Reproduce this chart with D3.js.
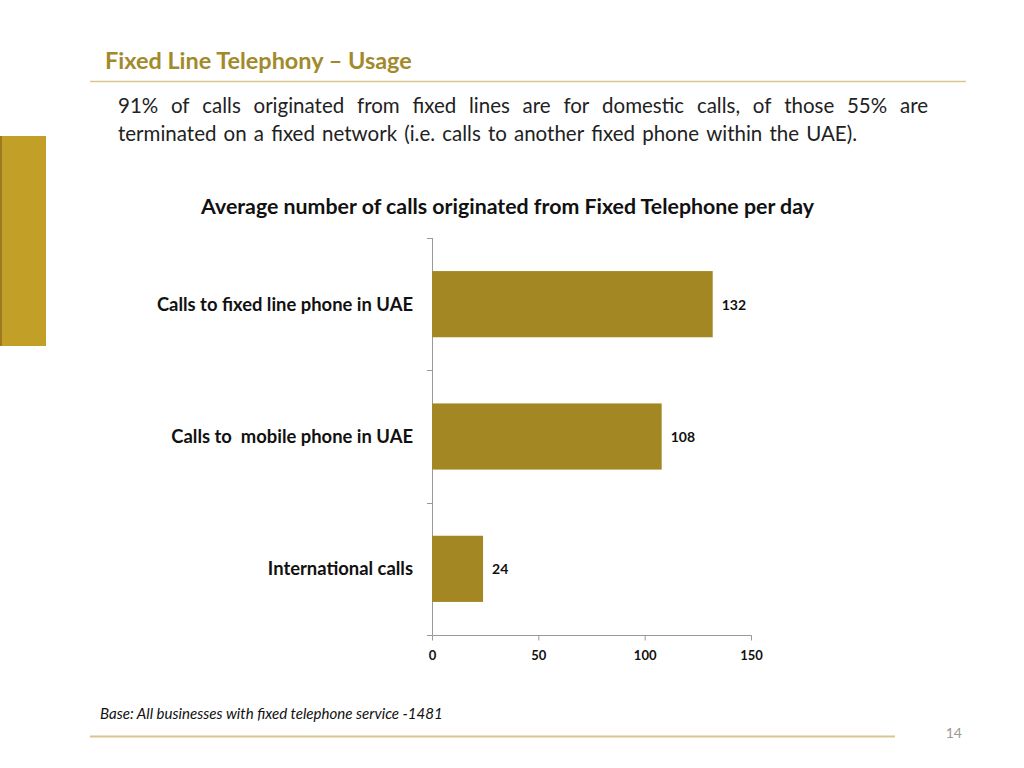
<!DOCTYPE html>
<html><head><meta charset="utf-8">
<script src="https://cdn.jsdelivr.net/npm/d3@7"></script>
<style>body{margin:0;background:#fff}svg{display:block}</style>
</head><body>
<svg id="c" width="1024" height="768"></svg>
<script>
const categories = ["Calls to fixed line phone in UAE", "Calls to  mobile phone in UAE", "International calls"];
const values = [132, 108, 24];
const xTicks = [0, 50, 100, 150];
const pageTitle = "Fixed Line Telephony \u2013 Usage";
const subtitleLines = ["91% of calls originated from fixed lines are for domestic calls, of those 55% are",
  "terminated on a fixed network (i.e. calls to another fixed phone within the UAE)."];
const chartTitle = "Average number of calls originated from Fixed Telephone per day";
const baseNote = "Base: All businesses with fixed telephone service -1481";
const pageNum = "14";

const font = "Lato, 'Open Sans', sans-serif";
const svg = d3.select("#c");

// fit text to a target width
function fit(sel, w){
  const cur = sel.node().getComputedTextLength();
  const fs = parseFloat(sel.attr("font-size"));
  sel.attr("font-size", fs * w / cur);
}

// decorations
svg.append("rect").attr("x",0).attr("y",136).attr("width",46).attr("height",210).attr("fill","#C2A027");
svg.append("rect").attr("x",0).attr("y",136).attr("width",2).attr("height",210).attr("fill","#9a7a1c");
svg.append("line").attr("x1",90).attr("x2",966).attr("y1",81.5).attr("y2",81.5).attr("stroke","#D8C68E").attr("stroke-width",1.5);
svg.append("line").attr("x1",90).attr("x2",895).attr("y1",736.5).attr("y2",736.5).attr("stroke","#D8C68E").attr("stroke-width",2);

const t1 = svg.append("text").attr("x",105).attr("y",69).attr("font-family",font).attr("font-weight","bold")
  .attr("font-size",20).attr("fill","#A28A2C").text(pageTitle);
fit(t1, 307);

// justified subtitle: spread words between x0 and x1
function justify(line, y, x0, x1, fs){
  const words = line.split(" ");
  const g = svg.append("g").attr("font-family",font).attr("font-size",fs).attr("fill","#222");
  const nodes = words.map(w => g.append("text").attr("y",y).text(w));
  const widths = nodes.map(n => n.node().getComputedTextLength());
  const total = d3.sum(widths);
  const space = (x1 - x0 - total)/(words.length-1);
  let x = x0;
  nodes.forEach((n,i)=>{ n.attr("x",x); x += widths[i] + space; });
}
justify(subtitleLines[0], 113, 118, 928, 20.5);
justify(subtitleLines[1], 141, 118, 857, 20.5);

const ct = svg.append("text").attr("x",507.5).attr("y",214).attr("text-anchor","middle").attr("font-family",font)
  .attr("font-weight","bold").attr("font-size",18).attr("fill","#111").text(chartTitle);
fit(ct, 613);

// chart
const x = d3.scaleLinear().domain([0,150]).range([432,751]);
const y = d3.scaleBand().domain(categories).range([238,635]).paddingInner(0.5).paddingOuter(0.25);

const yAxisG = svg.append("g");
yAxisG.append("line").attr("x1",432.5).attr("x2",432.5).attr("y1",238).attr("y2",635).attr("stroke","#999");
[0,1,2,3].forEach(i=>{
  const yy = 238 + i*(397/3);
  yAxisG.append("line").attr("x1",427).attr("x2",432.5).attr("y1",Math.round(yy)+0.5).attr("y2",Math.round(yy)+0.5).attr("stroke","#999");
});

const xAxis = d3.axisBottom(x).tickValues(xTicks).tickSize(5).tickPadding(10);
const xg = svg.append("g").attr("transform","translate(0,635.5)").call(xAxis);
xg.select(".domain").attr("stroke","#999").attr("d","M432.5,0H751.5");
xg.selectAll(".tick line").attr("stroke","#999");
xg.selectAll(".tick text").attr("font-family",font).attr("font-weight","bold").attr("font-size",13).attr("fill","#111");

svg.append("g").selectAll("rect").data(values).join("rect")
  .attr("x",x(0)).attr("y",(d,i)=>y(categories[i])).attr("width",d=>x(d)-x(0))
  .attr("height",y.bandwidth()).attr("fill","#A38723");

svg.append("g").selectAll("text").data(values).join("text")
  .attr("x",d=>x(d)+9).attr("y",(d,i)=>y(categories[i])+y.bandwidth()/2+5.5)
  .attr("font-family",font).attr("font-weight","bold").attr("font-size",14).attr("fill","#111").text(d=>d);

svg.append("g").selectAll("text").data(categories).join("text")
  .attr("x",413).attr("y",c=>y(c)+y.bandwidth()/2+6.5).attr("text-anchor","end")
  .attr("font-family",font).attr("font-weight","bold").attr("font-size",18.4).attr("fill","#111")
  .attr("xml:space","preserve").style("white-space","pre").text(c=>c);

const bn = svg.append("text").attr("x",100).attr("y",719).attr("font-family",font).attr("font-style","italic")
  .attr("font-size",13).attr("fill","#111").text(baseNote);
fit(bn, 343);
svg.append("text").attr("x",962).attr("y",738).attr("text-anchor","end").attr("font-family",font)
  .attr("font-size",14).attr("fill","#999").text(pageNum);
</script>
</body></html>
